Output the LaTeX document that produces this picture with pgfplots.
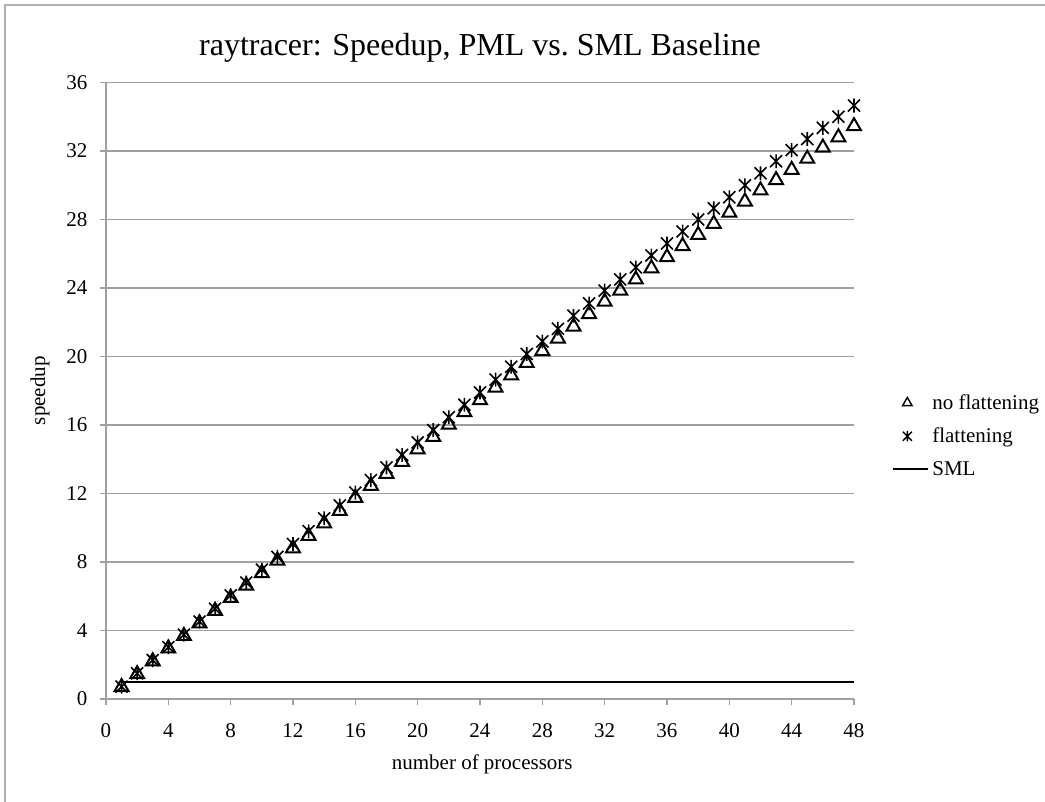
\documentclass[border=0pt]{standalone}
\usepackage{fontspec}
\setmainfont{Liberation Serif}
\usepackage{pgfplots}
\usepackage{pgfplotstable}
\pgfplotsset{compat=1.18}
\definecolor{gridgray}{RGB}{160,160,160}
\definecolor{framegray}{RGB}{175,175,175}

% Excel-like star: an X with a vertical bar through it
\pgfdeclareplotmark{xstar}{%
  \pgfpathmoveto{\pgfqpoint{-\pgfplotmarksize}{-\pgfplotmarksize}}%
  \pgfpathlineto{\pgfqpoint{\pgfplotmarksize}{\pgfplotmarksize}}%
  \pgfpathmoveto{\pgfqpoint{-\pgfplotmarksize}{\pgfplotmarksize}}%
  \pgfpathlineto{\pgfqpoint{\pgfplotmarksize}{-\pgfplotmarksize}}%
  \pgfpathmoveto{\pgfqpoint{0pt}{-1.15\pgfplotmarksize}}%
  \pgfpathlineto{\pgfqpoint{0pt}{1.15\pgfplotmarksize}}%
  \pgfusepathqstroke}

\pgfplotstableread{
p  nf     f
1  0.70   0.72
2  1.45   1.50
3  2.20   2.27
4  2.95   3.03
5  3.68   3.76
6  4.42   4.52
7  5.15   5.27
8  5.90   6.05
9  6.62   6.80
10 7.35   7.55
11 8.08   8.30
12 8.80   9.05
13 9.52   9.80
14 10.25  10.55
15 10.98  11.30
16 11.75  12.05
17 12.45  12.78
18 13.15  13.52
19 13.85  14.25
20 14.58  14.98
21 15.30  15.70
22 16.02  16.45
23 16.75  17.18
24 17.45  17.90
25 18.18  18.65
26 18.90  19.40
27 19.62  20.15
28 20.32  20.88
29 21.05  21.62
30 21.75  22.38
31 22.48  23.10
32 23.20  23.85
33 23.85  24.50
34 24.50  25.20
35 25.15  25.90
36 25.80  26.60
37 26.45  27.30
38 27.10  28.00
39 27.75  28.65
40 28.40  29.30
41 29.05  30.00
42 29.70  30.70
43 30.30  31.40
44 30.90  32.05
45 31.55  32.70
46 32.20  33.35
47 32.80  34.00
48 33.45  34.65
}\speedup

\begin{document}
\begin{tikzpicture}
\path[use as bounding box] (-106pt,-103pt) rectangle (939pt,699pt);
\draw[framegray, line width=1.5pt] (-101pt,-103pt) -- (-101pt,694pt) -- (939pt,694pt);
\begin{axis}[
  at={(0,0)}, anchor=south west,
  width=748pt, height=616.5pt, scale only axis,
  xmin=0, xmax=48, ymin=0, ymax=36,
  xtick={0,4,...,48}, ytick={0,4,...,36},
  axis lines*=left,
  axis line style={gridgray, line width=1.5pt},
  ymajorgrids,
  grid style={gridgray, line width=1.5pt},
  tick style={gridgray, line width=1.5pt},
  tick align=outside,
  major tick length=6pt,
  clip=false,
  /pgf/number format/assume math mode=true,
  tick label style={font=\fontsize{21}{25}\selectfont},
  yticklabel style={xshift=-9pt},
  xticklabel style={yshift=-15pt},
  label style={font=\fontsize{21}{25}\selectfont},
  xlabel={number of processors},
  xlabel style={at={(axis description cs:0.503,-0.106)}, anchor=center},
  ylabel={speedup},
  ylabel style={at={(axis description cs:-0.088,0.5)}, anchor=center},
  title={raytracer: Speedup, PML vs.\ SML Baseline},
  title style={font=\fontsize{32}{38}\selectfont, at={(axis description cs:0.5,1.047)}, anchor=center},
  legend style={at={(axis description cs:1.051,0.497)}, anchor=north west,
    draw=none, fill=none, inner sep=0pt,
    font=\fontsize{21}{25}\selectfont,
    row sep=13pt, cells={anchor=west}},
  legend cell align=left,
]
\addplot[only marks, mark=triangle, mark size=8pt, line width=2pt, black,
  legend image code/.code={\path (0pt,0pt) (36pt,0pt);
    \begin{scope}[shift={(14pt,0pt)}, line width=1.4pt]
      \pgfsetplotmarksize{5.5pt}\pgfuseplotmark{triangle}
    \end{scope}}]
  table[x=p, y=nf] {\speedup};
\addlegendentry{no flattening}
\addplot[only marks, mark=xstar, mark size=6pt, line width=1.6pt, black,
  legend image code/.code={\path (0pt,0pt) (36pt,0pt);
    \begin{scope}[shift={(14pt,0pt)}, line width=1.5pt]
      \pgfsetplotmarksize{4.5pt}\pgfuseplotmark{xstar}
    \end{scope}}]
  table[x=p, y=f] {\speedup};
\addlegendentry{flattening}
\addplot[black, line width=2pt, no marks,
  legend image code/.code={\draw[line width=1.4pt] (0pt,0pt) -- (35pt,0pt);}]
  coordinates {(1,1) (2,1) (3,1) (4,1) (6,1) (8,1) (12,1) (16,1) (20,1) (24,1) (28,1) (32,1) (36,1) (40,1) (44,1) (48,1)};
\addlegendentry{SML}
\end{axis}
\end{tikzpicture}
\end{document}
